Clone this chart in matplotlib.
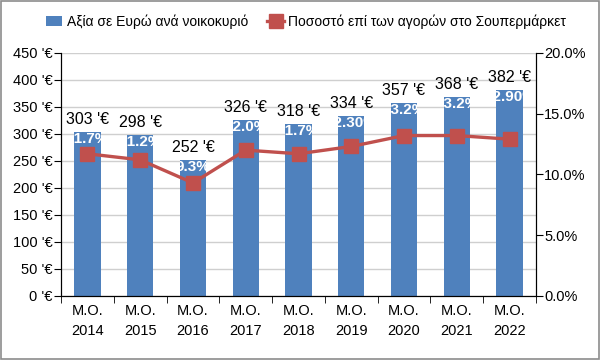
import matplotlib
matplotlib.use("Agg")
import matplotlib.pyplot as plt
from matplotlib.patches import Rectangle
from matplotlib.ticker import FuncFormatter, MultipleLocator

plt.rcParams["font.family"] = ["Liberation Sans", "DejaVu Sans"]

years = ["2014", "2015", "2016", "2017", "2018", "2019", "2020", "2021", "2022"]
value_eur = [303, 298, 252, 326, 318, 334, 357, 368, 382]
share_pct = [11.7, 11.2, 9.3, 12.0, 11.7, 12.3, 13.2, 13.2, 12.9]
share_labels = ["11.7%", "11.2%", "9.3%", "12.0%", "11.7%", "12.30%", "13.2%", "13.2%", "12.90%"]

BLUE = "#4F81BD"
RED = "#C0504D"

fig = plt.figure(figsize=(6, 3.6), dpi=100)
fig.patches.append(Rectangle((0.002, 0.003), 0.996, 0.994, transform=fig.transFigure,
                             fill=False, edgecolor="#8c8c8c", linewidth=1.2))
ax = fig.add_axes([0.1017, 0.178, 0.7916, 0.675])
ax2 = ax.twinx()

x = list(range(len(years)))
bars = ax.bar(x, value_eur, width=0.5, color=BLUE, zorder=2,
              label="Αξία σε Ευρώ ανά νοικοκυριό")
ax.set_ylim(0, 450)
ax.set_xlim(-0.5, len(years) - 0.5)
ax.yaxis.set_major_locator(MultipleLocator(50))
ax.yaxis.set_major_formatter(FuncFormatter(lambda v, p: f"{v:.0f} '€"))
ax.grid(axis="y", color="#cfcfcf", linewidth=1, zorder=0)
ax.set_axisbelow(True)

ax.set_xticks(x)
ax.set_xticklabels([f"M.O.\n{y}" for y in years], fontsize=10.5, linespacing=1.5)
ax.set_xticks([i + 0.5 for i in x[:-1]] + [-0.5, len(years) - 0.5], minor=True)
ax.tick_params(axis="x", which="major", length=0, pad=6)
ax.tick_params(axis="x", which="minor", length=5, direction="out", color="black")
ax.tick_params(axis="y", length=5, direction="out", labelsize=10.5, pad=1)

ax2.plot(x, share_pct, color=RED, linewidth=2.4, marker="s", markersize=9.5,
         label="Ποσοστό επί των αγορών στο Σουπερμάρκετ", zorder=3)
ax2.set_ylim(0, 20)
ax2.yaxis.set_major_locator(MultipleLocator(5))
ax2.yaxis.set_major_formatter(FuncFormatter(lambda v, p: f"{v:.1f}%"))
ax2.tick_params(axis="y", length=5, direction="out", labelsize=10.5, pad=1)

# labels drawn on the top axes, positioned with the bar axes' data coords
for b, v, lab in zip(bars, value_eur, share_labels):
    cx = b.get_x() + b.get_width() / 2
    t = ax2.annotate(lab, (cx, v), xycoords=ax.transData, xytext=(0, -5),
                     textcoords="offset points", ha="center", va="center",
                     fontsize=11, fontweight="bold", color="white", zorder=4)
    t.set_clip_path(b)
    ax2.annotate(f"{v} '€", (cx, v), xycoords=ax.transData, xytext=(0, 9),
                 textcoords="offset points", ha="center", va="center",
                 fontsize=11.5, color="black", zorder=5)

for a in (ax, ax2):
    a.spines["top"].set_visible(False)
    for s in ("left", "right", "bottom"):
        a.spines[s].set_color("black")

h1, l1 = ax.get_legend_handles_labels()
h2, l2 = ax2.get_legend_handles_labels()
fig.legend(h1 + h2, l1 + l2, loc="center", bbox_to_anchor=(0.51, 0.94), ncol=2,
           frameon=False, fontsize=10, handlelength=1.2, handletextpad=0.3,
           columnspacing=1.4)

fig.savefig("out.png", dpi=100)
